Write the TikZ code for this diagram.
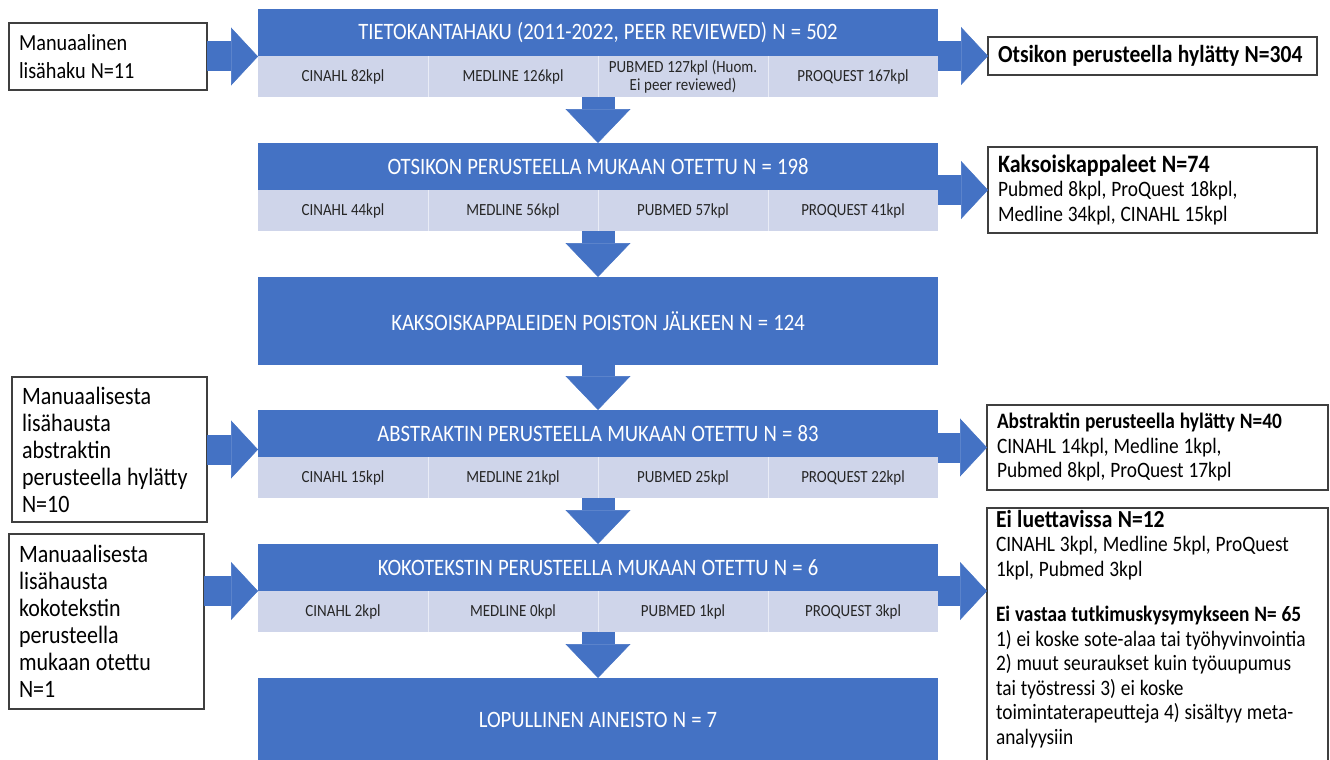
\documentclass[tikz,border=0pt]{standalone}
\usepackage{fontspec}
\setmainfont{Carlito}[FakeStretch=0.88]
\usepackage{tikz}
\usetikzlibrary{positioning}
\usetikzlibrary{arrows.meta}
\definecolor{flowblue}{HTML}{4472C4}
\definecolor{cellblue}{HTML}{CFD5EA}
\definecolor{boxline}{HTML}{3F3F3F}
\hyphenpenalty=10000
\newcommand{\fsz}[2]{\fontsize{#1}{#2}\selectfont\spaceskip=0.22em plus 0.05em\relax}

\begin{document}
\begin{tikzpicture}[x=1pt,y=-1pt]
	\tikzstyle{TitleStyle} = [fill=flowblue, text=white, minimum width=680pt, minimum height=47pt, inner sep=0pt, outer sep=0pt, font=\fsz{23.5}{27}]
	\tikzstyle{CellStyle}  = [fill=cellblue, text=black!85, minimum width=170pt, minimum height=41pt, inner sep=0pt, outer sep=0pt, align=center, font=\fsz{17}{18}]
	\tikzstyle{SepStyle}   = [draw=white!55!cellblue, line width=1pt]
	\tikzstyle{NoteStyle}  = [draw=boxline, line width=1.2pt, anchor=north west, align=flush left, inner xsep=10pt, inner ysep=0pt, outer sep=0pt]
	\tikzstyle{DownArrow}  = [draw=flowblue, line width=33pt, -{Triangle[width=65pt,length=34pt,line width=0.5pt]}]
	\tikzstyle{SideArrow}  = [draw=flowblue, line width=30pt, -{Triangle[width=58pt,length=27pt,line width=0.5pt]}]
	\useasboundingbox (0,0) rectangle (1330,760);
	% main column
	\node[TitleStyle] (t1) at (598,32.5) {TIETOKANTAHAKU (2011-2022, PEER REVIEWED) N = 502};
	\node[CellStyle, anchor=north west] (a1) at (t1.south west) {CINAHL 82kpl};
	\node[CellStyle, right=0pt of a1] (a2) {MEDLINE 126kpl};
	\node[CellStyle, right=0pt of a2] (a3) {PUBMED 127kpl (Huom.\\ Ei peer reviewed)};
	\node[CellStyle, right=0pt of a3] (a4) {PROQUEST 167kpl};
	\node[TitleStyle, below=87pt of t1] (t2) {OTSIKON PERUSTEELLA MUKAAN OTETTU N = 198};
	\node[CellStyle, anchor=north west] (b1) at (t2.south west) {CINAHL 44kpl};
	\node[CellStyle, right=0pt of b1] (b2) {MEDLINE 56kpl};
	\node[CellStyle, right=0pt of b2] (b3) {PUBMED 57kpl};
	\node[CellStyle, right=0pt of b3] (b4) {PROQUEST 41kpl};
	\node[TitleStyle, minimum height=88pt, below=87pt of t2] (k3) {KAKSOISKAPPALEIDEN POISTON JÄLKEEN N = 124};
	\node[TitleStyle, below=45pt of k3] (t4) {ABSTRAKTIN PERUSTEELLA MUKAAN OTETTU N = 83};
	\node[CellStyle, anchor=north west] (d1) at (t4.south west) {CINAHL 15kpl};
	\node[CellStyle, right=0pt of d1] (d2) {MEDLINE 21kpl};
	\node[CellStyle, right=0pt of d2] (d3) {PUBMED 25kpl};
	\node[CellStyle, right=0pt of d3] (d4) {PROQUEST 22kpl};
	\node[TitleStyle, below=87pt of t4] (t5) {KOKOTEKSTIN PERUSTEELLA MUKAAN OTETTU N = 6};
	\node[CellStyle, anchor=north west] (e1) at (t5.south west) {CINAHL 2kpl};
	\node[CellStyle, right=0pt of e1] (e2) {MEDLINE 0kpl};
	\node[CellStyle, right=0pt of e2] (e3) {PUBMED 1kpl};
	\node[CellStyle, right=0pt of e3] (e4) {PROQUEST 3kpl};
	\node[TitleStyle, minimum height=84pt, below=87pt of t5] (t6) {LOPULLINEN AINEISTO N = 7};
	\foreach \r in {a,b,d,e}
		\foreach \i in {1,2,3}
			\draw[SepStyle] (\r\i.north east) -- (\r\i.south east);
	% side notes
	\node[NoteStyle, text width=178pt, minimum height=67pt, font=\fsz{23}{28}] (m1) at (9,23) {Manuaalinen\\ lisähaku N=11};
	\node[NoteStyle, text width=175pt, minimum height=145pt, font=\fsz{25}{27}] (m2) at (12,377) {Manuaalisesta\\ lisähausta\\ abstraktin\\ perusteella hylätty\\ N=10};
	\node[NoteStyle, text width=175pt, minimum height=175pt, font=\fsz{25}{27}] (m3) at (9,534) {Manuaalisesta\\ lisähausta\\ kokotekstin\\ perusteella\\ mukaan otettu\\ N=1};
	\node[NoteStyle, text width=309pt, minimum height=38pt, font=\fsz{24.5}{28}\bfseries] (r1) at (988,37) {Otsikon perusteella hylätty N=304};
	\node[NoteStyle, text width=309pt, minimum height=86pt, font=\fsz{22}{24.5}] (r2) at (988,147) {{\fsz{25}{24.5}\bfseries Kaksoiskappaleet N=74}\\ Pubmed 8kpl, ProQuest 18kpl,\\ Medline 34kpl, CINAHL 15kpl};
	\node[NoteStyle, text width=321pt, minimum height=85pt, font=\fsz{22}{24.5}] (r3) at (987,405) {\textbf{Abstraktin perusteella hylätty N=40}\\ CINAHL 14kpl, Medline 1kpl,\\ Pubmed 8kpl, ProQuest 17kpl};
	\node[NoteStyle, inner xsep=9pt, text width=323pt, text height=19pt, text depth=245pt, font=\fsz{22}{24.5}] (r4) at (987,508) {{\fsz{24.5}{24.5}\bfseries Ei luettavissa N=12}\\ CINAHL 3kpl, Medline 5kpl, ProQuest\\ 1kpl, Pubmed 3kpl\\[21pt] \textbf{Ei vastaa tutkimuskysymykseen N= 65}\\ 1) ei koske sote-alaa tai työhyvinvointia\\ 2) muut seuraukset kuin työuupumus\\ tai työstressi 3) ei koske\\ toimintaterapeutteja 4) sisältyy meta-\\ analyysiin};
	% arrows
	\draw[DownArrow] (a2.south east) -- (t2.north);
	\draw[DownArrow] (b2.south east) -- (k3.north);
	\draw[DownArrow] (k3.south) -- (t4.north);
	\draw[DownArrow] (d2.south east) -- (t5.north);
	\draw[DownArrow] (e2.south east) -- (t6.north);
	\draw[SideArrow] (m1.east) -- (m1.east -| t1.west);
	\draw[SideArrow] (m2.east) -- (m2.east -| t4.west);
	\draw[SideArrow] (t5.south west -| m3.east) -- (t5.south west);
	\draw[SideArrow] (r1.west -| t1.east) -- (r1.west);
	\draw[SideArrow] (r2.west -| t2.east) -- (r2.west);
	\draw[SideArrow] (r3.west -| t4.east) -- (r3.west);
	\draw[SideArrow] (t5.south east) -- (t5.south east -| r4.west);
\end{tikzpicture}
\end{document}
